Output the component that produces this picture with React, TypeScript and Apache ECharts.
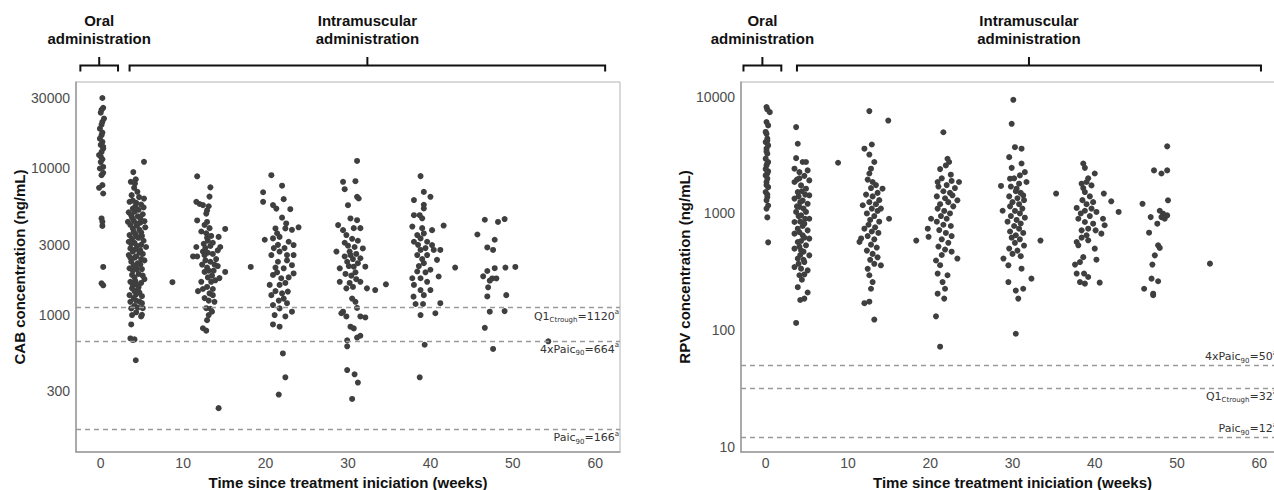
import React, { useEffect, useRef } from "react";
import * as echarts from "echarts";

type Pt = [number, number];

// ---------- axis ticks ----------
const xTicks = [0, 10, 20, 30, 40, 50, 60];
const cabTicks = [300, 1000, 3000, 10000, 30000];
const rpvTicks = [10, 100, 1000, 10000];

// ---------- CAB concentrations [week, ng/mL] ----------
const cabOral: Pt[] = [
  [0.2, 30100], [0.3, 25800], [0.1, 25000], [0.0, 23900], [0.4, 21800], [0.2, 20700], [0.1, 19800],
  [-0.1, 18600], [0.2, 17500], [0.1, 16800], [-0.1, 15900], [0.2, 15100], [0.0, 14400], [0.3, 14000],
  [0.3, 13600], [0.1, 12900], [-0.2, 12300], [0.0, 12000], [0.2, 11500], [0.0, 11000], [0.3, 10200],
  [-0.1, 9950], [0.3, 9300], [0.1, 8960], [0.2, 7660], [-0.2, 7350], [0.3, 6720], [0.1, 4540],
  [0.2, 4310], [0.2, 4040], [0.3, 2120], [0.1, 1640], [0.3, 1590],
];
const cabW4: Pt[] = [
  [5.25, 11050], [3.95, 9400], [4.25, 8400], [3.65, 8070], [4.15, 7850], [4.05, 7350], [4.45, 6900],
  [3.75, 6550], [4.65, 6350], [5.25, 6200], [3.5, 5900], [4.3, 5800], [4.9, 5650], [3.9, 5310],
  [4.6, 5200], [5.2, 5400], [3.4, 5000], [4.1, 5050], [3.7, 4780], [4.5, 4700], [5.1, 4850],
  [3.3, 4310], [4.0, 4400], [4.8, 4250], [5.3, 4350], [3.6, 4100], [4.4, 4050], [3.9, 3880],
  [4.7, 3800], [5.4, 3950], [3.5, 3500], [4.2, 3550], [5.0, 3450], [3.8, 3300], [4.6, 3350],
  [3.4, 3150], [4.1, 3100], [5.2, 3200], [4.4, 2950], [4.9, 3000], [3.6, 2835], [4.2, 2800],
  [5.5, 2900], [3.9, 2700], [4.7, 2650], [3.4, 2555], [4.3, 2500], [5.1, 2600], [3.7, 2300],
  [4.5, 2250], [5.3, 2350], [4.0, 2180], [4.8, 2200], [3.5, 2075], [4.4, 2050], [3.8, 1870],
  [4.6, 1900], [5.1, 1850], [5.3, 1750], [3.6, 1680], [4.2, 1700], [4.9, 1650], [3.8, 1515],
  [4.5, 1480], [3.5, 1362], [4.3, 1380], [5.0, 1340], [3.6, 1227], [4.7, 1230], [5.0, 1200],
  [3.7, 1106], [5.1, 1110], [3.8, 996], [5.0, 1000], [4.9, 975], [3.7, 860], [3.6, 690],
  [4.1, 680], [3.9, 673], [4.25, 490], [3.9, 6000], [4.2, 5500], [4.8, 4550], [3.8, 4600],
  [4.3, 4200], [4.0, 3700], [4.9, 3650], [4.4, 3400], [3.7, 3050], [4.8, 2750], [4.1, 2450],
  [3.6, 2450], [4.9, 2400], [4.2, 2150], [3.9, 2000], [5.0, 2050], [4.1, 1800], [3.9, 1600],
  [4.4, 1600], [4.6, 1550], [4.1, 1450], [4.7, 1420], [4.0, 1300], [4.3, 1250], [4.1, 1150],
  [4.5, 1120], [4.3, 1040],
];
const cabW9: Pt[] = [[8.7, 1670]];
const cabW13: Pt[] = [
  [11.7, 8800], [13.3, 7400], [13.2, 6400], [11.6, 5900], [12.0, 5700], [12.4, 5600], [13.1, 5500],
  [12.9, 5150], [12.8, 4900], [11.7, 4400], [12.9, 4300], [15.1, 3850], [12.6, 4100], [13.2, 3900],
  [12.8, 3600], [13.4, 3450], [14.3, 3400], [12.2, 3700], [13.0, 3200], [11.6, 2900], [12.5, 3050],
  [13.3, 2950], [11.2, 2500], [11.7, 2500], [12.4, 2700], [13.0, 2650], [13.6, 2600], [14.2, 2750],
  [14.5, 2900], [12.7, 2350], [13.3, 2300], [14.0, 2400], [12.3, 2200], [14.2, 2150], [15.1, 1960],
  [12.6, 1960], [13.1, 2000], [13.5, 1850], [14.4, 1780], [12.2, 1680], [13.4, 1680], [13.9, 1720],
  [12.9, 1550], [11.8, 1450], [13.2, 1400], [13.6, 1362], [12.6, 1300], [13.8, 1227], [12.8, 1110],
  [13.3, 1100], [13.1, 996], [12.9, 920], [12.4, 810], [12.8, 780], [14.3, 231], [12.9, 3350],
  [13.6, 3100], [12.7, 2850], [13.8, 2200], [12.9, 2100], [13.6, 1500], [12.4, 1500], [13.0, 1800],
  [13.7, 2000], [12.6, 2550], [13.1, 1250], [13.5, 1050],
];
const cabW18: Pt[] = [[18.2, 2120]];
const cabW22: Pt[] = [
  [20.7, 8960], [19.7, 6850], [19.7, 5900], [22.0, 7600], [20.9, 5600], [22.2, 6150], [21.3, 5300],
  [23.0, 5250], [22.0, 4600], [21.2, 3880], [23.2, 3800], [24.0, 3950], [22.4, 3880], [19.9, 3250],
  [20.9, 3320], [21.7, 3400], [22.8, 3150], [23.4, 2990], [21.7, 2700], [20.7, 2555], [22.6, 2555],
  [23.4, 2555], [21.5, 2300], [22.2, 2075], [23.2, 2180], [20.9, 1870], [21.9, 1775], [23.4, 1915],
  [20.5, 1600], [21.7, 1600], [22.7, 1440], [20.7, 1362], [22.2, 1290], [23.2, 1050], [20.9, 1165],
  [21.7, 1106], [21.1, 996], [22.4, 975], [20.9, 860], [21.7, 830], [22.1, 545], [22.4, 375],
  [21.6, 286], [21.5, 3000], [22.3, 2850], [21.0, 2850], [22.6, 2350], [21.2, 2100], [22.8, 1800],
  [21.4, 1950], [22.4, 1650], [21.2, 1450], [22.0, 1400], [21.6, 1250], [22.6, 1200], [21.4, 3600],
  [22.5, 4200],
];
const cabW30: Pt[] = [
  [31.1, 11200], [29.4, 8070], [30.9, 8150], [29.6, 7190], [31.1, 6380], [30.0, 5590], [31.3, 6210],
  [28.8, 4090], [30.3, 4540], [31.1, 4420], [29.4, 3780], [30.7, 3900], [31.5, 3900], [28.6, 2700],
  [30.0, 2960], [31.8, 2835], [29.0, 2075], [30.3, 2555], [31.5, 2430], [30.7, 2130], [32.1, 2130],
  [29.0, 1680], [29.8, 1515], [31.5, 1680], [32.3, 1515], [33.3, 1475], [30.5, 1290], [30.9, 1227],
  [31.1, 1115], [29.4, 1050], [31.5, 975], [32.1, 960], [29.2, 1025], [29.8, 975], [30.3, 830],
  [30.7, 808], [29.9, 670], [29.9, 610], [31.1, 700], [31.5, 720], [29.9, 420], [30.8, 393],
  [31.2, 345], [30.5, 267], [29.8, 3500], [30.5, 3300], [31.2, 3200], [29.6, 3100], [30.8, 2900],
  [30.2, 2700], [31.0, 2600], [29.6, 2500], [30.6, 2400], [29.9, 2300], [31.2, 2250], [30.1, 2150],
  [30.9, 1950], [29.7, 1900], [30.4, 1850], [31.0, 1750], [30.2, 1650], [30.6, 1550],
];
const cabW34: Pt[] = [[34.6, 1615]];
const cabW39: Pt[] = [
  [38.8, 8830], [39.2, 6890], [40.0, 6380], [38.0, 6060], [39.2, 5630], [39.2, 5310], [38.0, 4780],
  [38.7, 4780], [39.0, 4550], [37.8, 4000], [40.2, 3780], [41.6, 4060], [38.4, 3500], [39.2, 3590],
  [38.8, 3320], [38.0, 3150], [39.6, 3150], [40.2, 2990], [38.8, 2770], [40.4, 2770], [41.2, 2770],
  [38.4, 2555], [39.6, 2555], [40.8, 2370], [39.2, 2250], [40.0, 2030], [38.4, 1975], [41.0, 1825],
  [37.8, 1775], [38.8, 1775], [39.6, 1680], [38.0, 1600], [38.8, 1475], [40.0, 1475], [37.95, 1330],
  [39.2, 1362], [38.2, 1185], [39.1, 1185], [38.8, 996], [40.6, 1025], [41.2, 1200], [39.3, 625],
  [38.7, 375], [39.0, 3900], [38.5, 3000], [39.4, 2850], [39.0, 2400], [38.6, 2150], [39.4, 1950],
];
const cabW43: Pt[] = [[43.0, 2100]];
const cabW47: Pt[] = [
  [46.6, 4450], [48.2, 4300], [49.0, 4500], [45.7, 3530], [47.8, 3250], [46.9, 2880], [47.6, 2770],
  [49.1, 2100], [50.3, 2120], [47.8, 2080], [46.9, 1990], [46.4, 1830], [47.5, 1770], [48.0, 1770],
  [47.2, 1710], [47.0, 1540], [46.9, 1335], [49.2, 1362], [47.2, 1050], [49.0, 1060], [46.6, 815],
  [47.6, 585],
];
const cabW54: Pt[] = [[54.3, 660]];

// ---------- RPV concentrations [week, ng/mL] ----------
const rpvOral: Pt[] = [
  [0.1, 8160], [0.5, 7390], [0.1, 6070], [0.3, 5690], [0.1, 4820], [0.2, 4380], [0.0, 4090],
  [0.3, 3830], [0.1, 3590], [0.2, 3250], [0.0, 2950], [0.3, 2760], [0.1, 2580], [0.3, 2300],
  [0.0, 2120], [0.2, 1985], [0.1, 1860], [0.3, 1680], [0.0, 1525], [0.2, 1380], [0.1, 1295],
  [0.3, 1170], [0.1, 1100], [0.2, 925], [0.3, 565], [0.2, 7800], [0.0, 5000], [0.2, 4200],
  [0.1, 3400], [0.2, 2700], [0.0, 2400], [0.2, 2200], [0.1, 1750], [0.2, 1450],
];
const rpvW4: Pt[] = [
  [3.7, 5500], [3.9, 3960], [3.7, 2980], [4.5, 2760], [4.9, 2760], [3.5, 2420], [4.1, 2260],
  [5.1, 2340], [5.3, 1920], [3.5, 1860], [4.3, 1740], [4.9, 1630], [3.9, 1525], [5.3, 1430],
  [3.5, 1340], [4.5, 1290], [5.1, 1210], [4.1, 1135], [3.7, 1030], [4.9, 1030], [4.3, 962],
  [5.3, 900], [3.5, 844], [4.7, 817], [3.9, 740], [5.1, 716], [3.5, 671], [4.5, 649], [5.3, 608],
  [3.9, 569], [4.9, 533], [3.5, 499], [4.3, 483], [5.3, 437], [3.9, 410], [4.7, 383], [3.5, 347],
  [4.3, 336], [5.1, 325], [4.1, 295], [3.9, 233], [5.1, 210], [4.2, 181], [4.7, 186], [3.7, 115],
  [4.1, 2000], [4.7, 2100], [3.8, 1950], [4.4, 1550], [4.0, 1400], [4.8, 1450], [4.2, 1250],
  [3.8, 1150], [4.6, 1100], [4.0, 950], [4.8, 900], [4.2, 850], [4.5, 780], [4.1, 690], [4.7, 620],
  [4.3, 580], [4.1, 520], [4.6, 470], [4.2, 440], [4.6, 400], [4.0, 370], [4.7, 300], [4.4, 270],
];
const rpvW9: Pt[] = [[8.8, 2720]];
const rpvW13: Pt[] = [
  [12.6, 7540], [14.9, 6260], [12.0, 3590], [12.9, 3900], [12.6, 3200], [13.2, 2760], [12.8, 2420],
  [12.6, 2200], [13.0, 1860], [14.2, 1630], [11.8, 1175], [15.0, 900], [14.0, 1100], [11.6, 610],
  [11.4, 570], [12.0, 740], [12.4, 335], [14.0, 359], [12.6, 295], [13.0, 258], [12.8, 226],
  [12.6, 175], [12.0, 170], [13.2, 123], [12.4, 1950], [13.4, 1750], [12.8, 1650], [13.6, 1500],
  [12.2, 1450], [13.0, 1400], [13.8, 1300], [12.6, 1250], [13.4, 1200], [12.9, 1100], [13.6, 1050],
  [12.3, 1000], [13.2, 950], [12.7, 880], [13.8, 850], [12.5, 800], [13.3, 760], [12.9, 700],
  [13.7, 680], [12.4, 640], [13.2, 600], [12.8, 540], [13.5, 510], [12.3, 480], [13.0, 450],
  [13.6, 420], [12.7, 400], [13.2, 370],
];
const rpvW18: Pt[] = [[18.3, 585]];
const rpvW22: Pt[] = [
  [21.6, 4970], [22.1, 2945], [22.3, 2760], [21.9, 2580], [21.2, 2400], [22.5, 2150], [23.5, 1860],
  [22.7, 1430], [23.3, 1295], [20.9, 1860], [20.1, 900], [19.7, 740], [19.8, 630], [23.3, 410],
  [20.7, 395], [21.2, 360], [20.9, 305], [22.1, 295], [21.5, 258], [21.8, 226], [20.9, 205],
  [21.7, 186], [20.7, 131], [21.2, 72], [21.4, 2000], [22.6, 1900], [21.0, 1700], [22.0, 1750],
  [23.0, 1650], [21.6, 1550], [22.4, 1500], [20.8, 1400], [21.8, 1350], [22.2, 1250], [21.2, 1200],
  [22.8, 1150], [20.9, 1100], [21.7, 1050], [22.4, 1000], [21.3, 950], [22.0, 900], [20.8, 850],
  [21.6, 800], [22.5, 780], [21.1, 720], [21.9, 680], [22.6, 640], [21.4, 600], [22.2, 560],
  [21.0, 520], [21.8, 490], [22.6, 470], [21.4, 440],
];
const rpvW30: Pt[] = [
  [30.1, 9430], [29.9, 5870], [30.3, 3700], [31.1, 3590], [29.6, 3040], [31.1, 2680], [29.9, 2460],
  [31.5, 2260], [30.9, 2120], [28.6, 1720], [29.7, 1985], [31.7, 1860], [30.5, 1630], [31.3, 1430],
  [28.8, 1055], [33.4, 585], [28.9, 410], [29.5, 359], [31.1, 336], [32.3, 276], [29.5, 258],
  [30.4, 218], [31.3, 226], [30.7, 186], [30.4, 93], [30.2, 2000], [30.8, 1800], [29.8, 1700],
  [30.4, 1550], [31.0, 1500], [29.6, 1400], [30.6, 1350], [31.4, 1300], [30.0, 1250], [30.8, 1200],
  [29.7, 1150], [31.2, 1100], [30.3, 1050], [30.9, 1000], [29.8, 950], [31.5, 920], [30.5, 880],
  [29.4, 850], [31.0, 820], [30.2, 780], [30.8, 740], [29.7, 700], [31.3, 680], [30.4, 650],
  [29.9, 620], [30.9, 600], [30.3, 560], [31.4, 530], [29.6, 500], [30.6, 480], [30.0, 450],
  [31.0, 430],
];
const rpvW35: Pt[] = [[35.3, 1480]];
const rpvW39: Pt[] = [
  [38.6, 2680], [38.8, 2460], [40.0, 2200], [39.0, 1860], [38.4, 1800], [39.6, 1740], [38.8, 1525],
  [41.1, 1480], [42.0, 1270], [42.9, 1030], [37.8, 1115], [38.8, 1055], [39.6, 1100], [40.2, 1030],
  [38.0, 900], [38.8, 844], [39.8, 817], [41.0, 900], [41.2, 792], [38.4, 716], [39.2, 740],
  [40.1, 716], [40.8, 671], [37.8, 569], [38.0, 533], [39.2, 588], [40.0, 499], [38.6, 422],
  [40.2, 401], [37.6, 364], [38.2, 383], [37.8, 305], [38.7, 305], [39.2, 285], [38.8, 250],
  [38.2, 258], [40.6, 255], [39.2, 2000], [38.6, 1650], [39.4, 1400], [38.5, 1300], [39.8, 1250],
  [39.0, 1200], [38.3, 1000], [39.4, 950], [39.0, 650], [38.4, 620],
];
const rpvW47: Pt[] = [
  [48.8, 3760], [47.2, 2340], [48.1, 2200], [48.8, 2340], [48.9, 1295], [45.8, 1210], [46.8, 930],
  [47.9, 1055], [48.3, 995], [48.8, 962], [48.1, 930], [48.5, 900], [47.6, 817], [46.6, 684],
  [47.7, 533], [47.9, 506], [47.3, 437], [47.0, 364], [46.9, 276], [47.7, 262], [46.0, 226],
  [47.1, 205], [47.1, 199],
];
const rpvW54: Pt[] = [[54.0, 371]];

// ---------- reference lines ----------
const cabRefValues = [1120, 664, 166];
const cabRefTexts = ["Q1|Ctrough|=1120", "4xPaic|90|=664", "Paic|90|=166"];
const rpvRefValues = [50, 32, 12];
const rpvRefTexts = ["4xPaic|90|=50", "Q1|Ctrough|=32", "Paic|90|=12"];

// ---------- administration periods (weeks) ----------
const periodNames = ["Oral\nadministration", "Intramuscular\nadministration"];
const cabPeriods: Pt[] = [[-2.47, 2.1], [3.5, 61.2]];
const rpvPeriods: Pt[] = [[-2.7, 1.9], [3.8, 60.2]];

const cabGroups = [cabOral, cabW4, cabW9, cabW13, cabW18, cabW22, cabW30, cabW34, cabW39, cabW43, cabW47, cabW54];
const rpvGroups = [rpvOral, rpvW4, rpvW9, rpvW13, rpvW18, rpvW22, rpvW30, rpvW35, rpvW39, rpvW47, rpvW54];

const FONT = '"Liberation Sans", Arial, Helvetica, sans-serif';
const LFONT = '"DejaVu Sans", "Liberation Sans", sans-serif';
const DOT = "#3f3f3f";
const LBL = "#333333";

const richFmt = (t: string) => {
  const [a, b, c] = t.split("|");
  return `{main|${a}}{sub|${b}}{main|${c}}{sup|a}`;
};
const richStyles = {
  main: { fontSize: 11, lineHeight: 15, color: LBL, fontFamily: LFONT },
  sub: { fontSize: 7, lineHeight: 7, verticalAlign: "bottom", color: LBL, fontFamily: LFONT },
  sup: { fontSize: 7, lineHeight: 7, verticalAlign: "top", color: LBL, fontFamily: LFONT },
};

function makeYAxis(gi: number, name: string, min: number, max: number, ticks: number[]) {
  return {
    type: "log",
    logBase: 10,
    gridIndex: gi,
    min,
    max,
    splitLine: { show: false },
    minorSplitLine: { show: false },
    axisTick: { show: false },
    axisLine: { show: true, onZero: false, lineStyle: { color: "#9a9a9a", width: 1.5 } },
    axisLabel: {
      customValues: ticks,
      formatter: (v: number) => String(Math.round(v)),
      color: "#4d4d4d",
      fontSize: 14,
      fontFamily: FONT,
      margin: 6,
    },
    name,
    nameLocation: "middle",
    nameGap: 49,
    nameTextStyle: { fontSize: 15, fontWeight: "bold", color: "#111", fontFamily: FONT },
  };
}

function makeXAxis(gi: number) {
  return {
    type: "value",
    gridIndex: gi,
    min: -3,
    max: 63,
    splitNumber: 6,
    splitLine: { show: false },
    axisTick: { show: false },
    axisLine: { show: true, onZero: false, lineStyle: { color: "#9a9a9a", width: 1.5 } },
    axisLabel: {
      customValues: xTicks,
      formatter: (v: number) => String(Math.round(v)),
      color: "#4d4d4d",
      fontSize: 14,
      fontFamily: FONT,
      margin: 4,
    },
    name: "Time since treatment iniciation (weeks)",
    nameLocation: "middle",
    nameGap: 17,
    nameTextStyle: { fontSize: 15, fontWeight: "bold", color: "#111", fontFamily: FONT, lineHeight: 15 },
  };
}

function makeSeries(
  gi: number,
  groups: Pt[][],
  refValues: number[],
  refTexts: string[],
  positions: string[],
  padRight: number
) {
  return groups.map((g, i) => ({
    type: "scatter",
    xAxisIndex: gi,
    yAxisIndex: gi,
    data: g,
    symbolSize: 6,
    itemStyle: { color: DOT, opacity: 1 },
    silent: true,
    ...(i === 0
      ? {
          markLine: {
            silent: true,
            symbol: ["none", "none"],
            lineStyle: { type: [5, 4], color: "#9a9a9a", width: 1.3 },
            data: refValues.map((v, k) => ({
              yAxis: v,
              label: {
                show: true,
                position: positions[k],
                distance: 1,
                padding: [0, padRight, 0, 0],
                color: LBL,
                formatter: richFmt(refTexts[k]),
                rich: richStyles,
              },
            })),
          },
        }
      : {}),
  }));
}

export default function App() {
  const ref = useRef<HTMLDivElement>(null);

  useEffect(() => {
    if (!ref.current) return;
    const chart = echarts.init(ref.current, null, { renderer: "svg" });
    const gridBase = { top: 82, height: 370, show: true, borderColor: "#b3b3b3", borderWidth: 1, containLabel: false, outerBoundsMode: "none" };
    chart.setOption({
      animation: false,
      backgroundColor: "#ffffff",
      textStyle: { fontFamily: FONT },
      grid: [
        { ...gridBase, left: 76, width: 544 },
        { ...gridBase, left: 741, width: 543 },
      ],
      xAxis: [makeXAxis(0), makeXAxis(1)],
      yAxis: [
        makeYAxis(0, "CAB concentration (ng/mL)", 116, 38700, cabTicks),
        makeYAxis(1, "RPV concentration (ng/mL)", 9, 13400, rpvTicks),
      ],
      series: [
        ...makeSeries(0, cabGroups, cabRefValues, cabRefTexts, ["insideEndBottom", "insideEndBottom", "insideEndBottom"], 0),
        ...makeSeries(1, rpvGroups, rpvRefValues, rpvRefTexts, ["insideEndTop", "insideEndBottom", "insideEndTop"], 6),
      ],
    });

    const gfx: any[] = [];
    [cabPeriods, rpvPeriods].forEach((periods, gi) => {
      periods.forEach(([a, b], pi) => {
        const x1 = chart.convertToPixel({ xAxisIndex: gi }, a) as number;
        const x2 = chart.convertToPixel({ xAxisIndex: gi }, b) as number;
        const xc = (x1 + x2) / 2;
        gfx.push({
          type: "polyline",
          shape: { points: [[x1, 71.5], [x1, 65.5], [x2, 65.5], [x2, 71.5]] },
          style: { stroke: "#111", lineWidth: 2, fill: null },
          silent: true,
        });
        gfx.push({
          type: "line",
          shape: { x1: xc, y1: 65.5, x2: xc, y2: 57 },
          style: { stroke: "#111", lineWidth: 2 },
          silent: true,
        });
        gfx.push({
          type: "text",
          x: xc,
          y: 29,
          silent: true,
          style: {
            text: periodNames[pi],
            align: "center",
            verticalAlign: "middle",
            fontSize: 15,
            fontWeight: "bold",
            fontFamily: FONT,
            lineHeight: 18,
            fill: "#111",
          },
        });
      });
    });
    chart.setOption({ graphic: gfx });

    return () => chart.dispose();
  }, []);

  return (
    <div
      ref={ref}
      style={{ position: "fixed", left: 0, top: 0, width: 1274, height: 490, background: "#fff" }}
    />
  );
}
